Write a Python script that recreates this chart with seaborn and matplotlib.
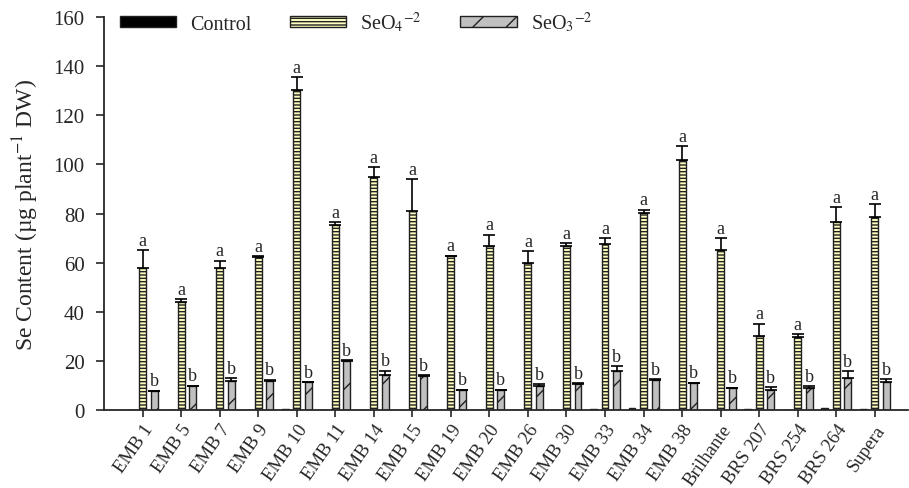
import numpy as np
import pandas as pd
import matplotlib
matplotlib.use("Agg")
import matplotlib.pyplot as plt
from matplotlib.patches import Patch
import seaborn as sns

genotypes = ["EMB 1", "EMB 5", "EMB 7", "EMB 9", "EMB 10", "EMB 11", "EMB 14", "EMB 15",
             "EMB 19", "EMB 20", "EMB 26", "EMB 30", "EMB 33", "EMB 34", "EMB 38",
             "Brilhante", "BRS 207", "BRS 254", "BRS 264", "Supera"]
control = [0.2, 0.2, 0.2, 0.2, 0.6, 0.2, 0.2, 0.2, 0.2, 0.2, 0.2, 0.2, 0.6, 1.0, 0.2,
           0.2, 0.4, 0.2, 0.7, 0.3]
control_err = [0.0] * 20
seo4 = [57.9, 43.8, 57.7, 62.2, 130.4, 75.3, 94.7, 81.2, 62.6, 66.9, 59.9, 66.6, 67.6, 80.2,
        101.9, 65.1, 30.3, 29.6, 76.4, 78.5]
seo4_err = [7.2, 1.2, 3.1, 0.5, 5.3, 1.2, 4.1, 12.9, 0.3, 4.5, 4.7, 1.5, 2.3, 1.4,
            5.7, 4.9, 4.9, 1.2, 6.1, 5.4]
seo3 = [7.6, 9.6, 11.7, 11.9, 11.3, 20.1, 14.3, 14.0, 8.1, 8.1, 9.9, 10.6, 16.0, 12.3,
        11.0, 8.8, 8.3, 9.1, 12.9, 11.3]
seo3_err = [0.3, 0.3, 1.3, 0.5, 0.2, 0.3, 1.7, 0.3, 0.2, 0.2, 0.7, 0.3, 1.8, 0.4,
            0.2, 0.3, 0.9, 0.5, 2.8, 1.2]
letters_seo4 = ["a"] * 20
letters_seo3 = ["b"] * 20
treatments = ["Control", "SeO$_4$$^{-2}$", "SeO$_3$$^{-2}$"]

df = pd.DataFrame({
    "Genotype": genotypes * 3,
    "Treatment": [treatments[0]] * 20 + [treatments[1]] * 20 + [treatments[2]] * 20,
    "Se": control + seo4 + seo3,
})

sns.set_style("ticks")
plt.rcParams["font.family"] = ["Liberation Serif", "DejaVu Serif"]
plt.rcParams["mathtext.fontset"] = "stix"
plt.rcParams["hatch.linewidth"] = 1.0

fig = plt.figure(figsize=(9.09, 4.89), dpi=100)
ax = fig.add_axes([0.1144, 0.1595, 0.884, 0.8035])

colors = ["#000000", "#ffffc0", "#c0c0c0"]
palette = dict(zip(treatments, colors))
sns.barplot(data=df, x="Genotype", y="Se", hue="Treatment", hue_order=treatments,
            order=genotypes, palette=palette, errorbar=None, width=0.9, gap=0.4,
            edgecolor="black", linewidth=1.0, saturation=1, ax=ax, legend=False)

hatches = ["", "-----", "/"]
errs = [control_err, seo4_err, seo3_err]
letters = [None, letters_seo4, letters_seo3]
bar_containers = list(ax.containers)
for ci, cont in enumerate(bar_containers):
    xs, hs = [], []
    for bar in cont.patches:
        bar.set_hatch(hatches[ci])
        bar.set_edgecolor("#202020")
        xs.append(bar.get_x() + bar.get_width() / 2)
        hs.append(bar.get_height())
    if ci > 0:
        e = np.array(errs[ci])
        ax.errorbar(xs, hs, yerr=[np.zeros_like(e), e], fmt="none", ecolor="black",
                    elinewidth=1.2, capsize=4, capthick=1.2, zorder=5)
        for x, h, er, lt in zip(xs, hs, e, letters[ci]):
            ax.text(x, h + er + 0.5, lt, ha="center", va="bottom", fontsize=13)

ax.set_ylim(0, 160)
ax.set_xlim(-1.0, 19.85)
ax.set_yticks(np.arange(0, 161, 20))
ax.set_xlabel("")
ax.set_ylabel("Se Content (µg plant$^{-1}$ DW)", fontsize=17, labelpad=9)
ax.tick_params(axis="y", labelsize=15, direction="out", length=6, width=1.2, pad=8)
ax.tick_params(axis="x", labelsize=13.5, direction="out", length=5, width=1.2, pad=3)
plt.setp(ax.get_xticklabels(), rotation=55, ha="right", rotation_mode="anchor")
for s in ["left", "bottom"]:
    ax.spines[s].set_linewidth(1.3)
sns.despine(ax=ax)

handles = [Patch(facecolor=c, edgecolor="#202020", hatch=h, linewidth=1.0)
           for c, h in zip(colors, hatches)]
ax.legend(handles, treatments, loc="upper left", bbox_to_anchor=(-0.003, 1.065), ncol=3,
          frameon=False, fontsize=14.5, handlelength=2.8, handleheight=0.45,
          columnspacing=1.9, handletextpad=0.7)

fig.savefig("out.png", dpi=100)
